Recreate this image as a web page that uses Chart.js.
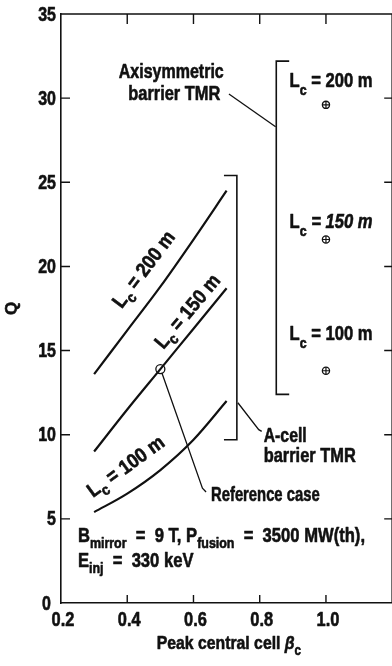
<!DOCTYPE html>
<html>
<head>
<meta charset="utf-8">
<script src="https://cdn.jsdelivr.net/npm/chart.js@4"></script>
<style>
html, body { margin: 0; padding: 0; background: #fff; overflow: hidden; }
#wrap { width: 398px; height: 666px; }
</style>
</head>
<body>
<div id="wrap"><canvas id="q-chart" width="398" height="666"></canvas></div>
<script>
// values
const betaPoints = [0.3, 0.4, 0.5, 0.6, 0.7];
const q200 = [13.6, 16.2, 18.8, 21.6, 24.5];
const q150 = [9.0, 11.5, 13.9, 16.3, 18.7];
const q100 = [5.4, 6.5, 7.9, 9.7, 12.0];
const refBeta = [0.5];
const refQ = [13.9];
const axisymBeta = [1.0, 1.0, 1.0];
const axisymQ = [29.6, 21.6, 13.8];
const xTicks = [0.2, 0.4, 0.6, 0.8, 1.0, 1.2];
const xTickLabels = ['0.2', '0.4', '0.6', '0.8', '1.0', ''];
const yTicks = [0, 5, 10, 15, 20, 25, 30, 35];

// brackets and leader lines, in axis units
const aCellBracket = [[0.692, 25.4], [0.731, 25.4], [0.731, 9.7], [0.692, 9.7]];
const axisymBracket = [[0.889, 32.2], [0.850, 32.2], [0.850, 12.4], [0.889, 12.4]];
const axisymLeader = [[0.707, 30.25], [0.848, 28.3]];
const aCellLeader = [[0.734, 11.9], [0.797, 10.3], [0.806, 10.2]];
const refLeader = [[0.505, 13.65], [0.627, 6.82], [0.638, 6.6]];

const FONT = "'Liberation Sans', Arial, sans-serif";

const pts = (xs, ys) => xs.map((x, i) => ({x: x, y: ys[i]}));
const pairs = arr => arr.map(p => ({x: p[0], y: p[1]}));

function curve(data) {
    return {
        data: data,
        borderColor: '#111',
        borderWidth: 2.2,
        pointRadius: 0,
        cubicInterpolationMode: 'monotone',
    };
}
function guide(data, w) {
    return {
        data: pairs(data),
        borderColor: '#111',
        borderWidth: w,
        pointRadius: 0,
        tension: 0,
    };
}

// text with subscripts, squeezed horizontally by k, a bit heavier than plain bold
function richText(ctx, parts, x, y, size, align, k, subDrop) {
    const drop = subDrop || 0.3;
    const fontOf = p => `${p.it ? 'italic ' : ''}bold ${p.sub ? Math.round(size * 0.75) : size}px ${FONT}`;
    let total = 0;
    parts.forEach(p => { ctx.font = fontOf(p); total += ctx.measureText(p.t).width; });
    ctx.save();
    ctx.translate(x, y);
    ctx.scale(k, 1);
    ctx.lineWidth = 0.6;
    ctx.lineJoin = 'round';
    let cx = align === 'center' ? -total / 2 : (align === 'right' ? -total : 0);
    ctx.textAlign = 'left';
    parts.forEach(p => {
        ctx.font = fontOf(p);
        const dy = p.sub ? size * drop : 0;
        ctx.fillText(p.t, cx, dy);
        ctx.strokeText(p.t, cx, dy);
        cx += ctx.measureText(p.t).width;
    });
    ctx.restore();
}

const Lc = (val, it) => [{t: 'L'}, {t: 'c', sub: true}, {t: ' = ' + val + ' m', it: it}];

const labelsPlugin = {
    id: 'labels',
    afterDraw(chart) {
        const ctx = chart.ctx;
        const xs = chart.scales.x, ys = chart.scales.y;
        const area = chart.chartArea;
        const X = v => xs.getPixelForValue(v);
        const Y = v => ys.getPixelForValue(v);
        ctx.save();
        ctx.strokeStyle = '#111';
        ctx.fillStyle = '#111';
        ctx.lineWidth = 1.6;

        // top and right frame
        ctx.beginPath();
        ctx.moveTo(area.left, area.top);
        ctx.lineTo(area.right, area.top);
        ctx.lineTo(area.right, area.bottom);
        ctx.stroke();

        // inward ticks
        ctx.lineWidth = 1.4;
        ctx.beginPath();
        xTicks.forEach(v => {
            if (v <= 0.2 || v >= 1.2) return;
            ctx.moveTo(X(v), area.bottom); ctx.lineTo(X(v), area.bottom - 8);
            ctx.moveTo(X(v), area.top); ctx.lineTo(X(v), area.top + 10);
        });
        yTicks.forEach(v => {
            if (v <= 0 || v >= 35) return;
            ctx.moveTo(area.left, Y(v)); ctx.lineTo(area.left + 9, Y(v));
            ctx.moveTo(area.right, Y(v)); ctx.lineTo(area.right - 8, Y(v));
        });
        ctx.stroke();

        // tick labels
        ctx.textBaseline = 'middle';
        yTicks.forEach(v => {
            richText(ctx, [{t: String(v)}], v === 0 ? area.left - 10 : area.left - 5, Y(v) + 1, 20, 'right', 0.8);
        });
        ctx.textBaseline = 'alphabetic';
        xTicks.forEach((v, i) => {
            richText(ctx, [{t: xTickLabels[i]}], X(v) + 2, area.bottom + 23, 20, 'center', 0.82);
        });

        const size = 20;
        richText(ctx, [{t: 'Axisymmetric'}], X(0.533), Y(31.2), size, 'center', 0.8);
        richText(ctx, [{t: 'barrier TMR'}], X(0.542), Y(29.89), size, 'center', 0.82);

        richText(ctx, Lc('200'), X(0.89), Y(30.66), size, 'left', 0.83, 0.38);
        richText(ctx, Lc('150', true), X(0.89), Y(22.28), size, 'left', 0.83, 0.38);
        richText(ctx, Lc('100'), X(0.89), Y(15.63), size, 'left', 0.83, 0.38);

        richText(ctx, [{t: 'A-cell'}], X(0.812), Y(9.57), size, 'left', 0.79);
        richText(ctx, [{t: 'barrier TMR'}], X(0.812), Y(8.38), size, 'left', 0.82);
        richText(ctx, [{t: 'Reference case'}], X(0.653), Y(6.06), size, 'left', 0.74);

        richText(ctx, [{t: 'B'}, {t: 'mirror', sub: true}, {t: '  =  9 T, P'}, {t: 'fusion', sub: true}, {t: '  =  3500 MW(th),'}],
            X(0.251), Y(3.63), size, 'left', 0.83);
        richText(ctx, [{t: 'E'}, {t: 'inj', sub: true}, {t: '  =  330 keV'}], X(0.251), Y(2.14), size, 'left', 0.83);

        // rotated curve labels
        [[Lc('200'), 0.452, 19.79, -53], [Lc('150'), 0.584, 17.29, -50], [Lc('100'), 0.397, 8.07, -36]].forEach(l => {
            ctx.save();
            ctx.translate(X(l[1]), Y(l[2]));
            ctx.rotate(l[3] * Math.PI / 180);
            ctx.textBaseline = 'middle';
            richText(ctx, l[0], 0, 0, size, 'center', 0.9, 0.35);
            ctx.restore();
        });

        // axis titles
        ctx.textBaseline = 'alphabetic';
        richText(ctx, [{t: 'Peak central cell '}, {t: 'β', it: true}, {t: 'c', sub: true}], X(0.707), area.bottom + 46, 19, 'center', 0.83);
        ctx.save();
        ctx.translate(area.left - 49, Y(17.5));
        ctx.rotate(-Math.PI / 2);
        ctx.textBaseline = 'middle';
        richText(ctx, [{t: 'Q'}], 0, 0, 17, 'center', 1);
        ctx.restore();

        ctx.restore();
    }
};

new Chart(document.getElementById('q-chart'), {
    type: 'line',
    data: {
        datasets: [
            curve(pts(betaPoints, q200)),
            curve(pts(betaPoints, q150)),
            curve(pts(betaPoints, q100)),
            guide(aCellBracket, 1.6),
            guide(axisymBracket, 1.6),
            guide(axisymLeader, 1.3),
            guide(aCellLeader, 1.3),
            guide(refLeader, 1.3),
            {
                data: pts(refBeta, refQ),
                showLine: false,
                pointRadius: 4.5,
                pointBorderWidth: 1.3,
                pointBorderColor: '#111',
                pointBackgroundColor: '#fff',
            },
            {
                data: pts(axisymBeta, axisymQ),
                showLine: false,
                pointStyle: 'cross',
                pointRadius: 3.6,
                pointBorderWidth: 1.2,
                pointBorderColor: '#111',
            },
            {
                data: pts(axisymBeta, axisymQ),
                showLine: false,
                pointStyle: 'circle',
                pointRadius: 3.6,
                pointBorderWidth: 1.3,
                pointBorderColor: '#111',
                pointBackgroundColor: '#fff',
            },
        ],
    },
    options: {
        responsive: false,
        animation: false,
        devicePixelRatio: 1,
        layout: { padding: { top: 14, right: 3.5, left: 0, bottom: 0 } },
        plugins: {
            legend: { display: false },
            tooltip: { enabled: false },
        },
        scales: {
            x: {
                type: 'linear',
                min: 0.2,
                max: 1.2,
                afterBuildTicks: s => { s.ticks = xTicks.map(v => ({value: v})); },
                afterFit: s => { s.height = 63; },
                grid: { display: false, drawTicks: false },
                border: { display: true, color: '#111', width: 1.6 },
                ticks: { display: false },
            },
            y: {
                min: 0,
                max: 35,
                afterBuildTicks: s => { s.ticks = yTicks.map(v => ({value: v})); },
                afterFit: s => { s.width = 61; },
                grid: { display: false, drawTicks: false },
                border: { display: true, color: '#111', width: 1.6 },
                ticks: { display: false },
            },
        },
    },
    plugins: [labelsPlugin],
});
</script>
</body>
</html>
